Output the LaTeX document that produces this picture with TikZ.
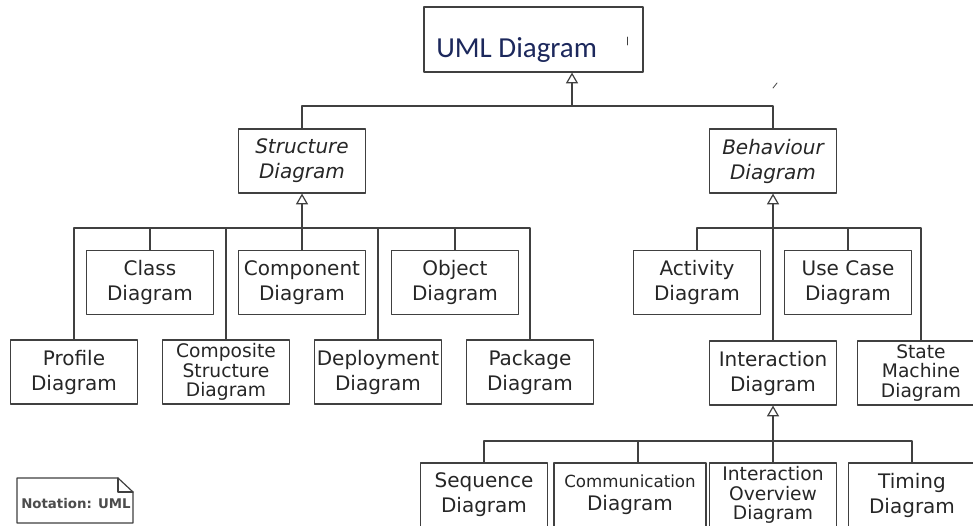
\documentclass[tikz,border=0pt]{standalone}
\usepackage{fontspec}
\setmainfont{DejaVu Sans}
\newfontfamily\titlefont{Carlito}
\usepackage{xcolor}
\usepackage{tikz}
\usetikzlibrary{positioning,arrows.meta}
\definecolor{umlline}{gray}{0.25}
\definecolor{umltitle}{RGB}{28,40,92}

\begin{document}
\begin{tikzpicture}[x=0.75pt, y=-0.75pt, line cap=round, line join=round,
    diagbox/.style={draw=umlline, line width=0.9pt, minimum width=95.25pt, minimum height=48pt,
        inner sep=0pt, align=center, text=black!85, font=\fontsize{15}{18.75}\selectfont},
    tallbox/.style={diagbox, font=\fontsize{14}{14.5}\selectfont},
    abstractbox/.style={diagbox, font=\fontsize{15}{18.75}\selectfont\itshape},
    gen/.style={draw=umlline, line width=0.9pt, -{Triangle[open, length=8pt, width=9pt]}},
    link/.style={draw=umlline, line width=0.9pt}]
        % Define frame
        \fill[white] (0,0) rectangle (973,525);
        \useasboundingbox (0,0) rectangle (973,525);
        \clip (0,0) rectangle (973,525);

        % Top of the tree
        \node[draw=umlline, line width=0.9pt, minimum width=164.25pt, minimum height=48.75pt] (uml) at (533.5,39.5) {};
        \node[anchor=base west, inner sep=0pt, text=umltitle, font=\titlefont\fontsize{21.75}{26}\selectfont] (umltext) at (436,57) {UML Diagram};
        \node[abstractbox] (structure) at (302,161) {Structure\\Diagram};
        \node[abstractbox] (behaviour) at (773,161) {Behaviour\\Diagram};

        % Structure diagrams
        \node[diagbox] (class) at (150,282.5) {Class\\Diagram};
        \node[diagbox] (component) at (302,282.5) {Component\\Diagram};
        \node[diagbox] (object) at (455,282.5) {Object\\Diagram};
        \node[diagbox] (profile) at (74,372) {Profile\\Diagram};
        \node[tallbox] (composite) at (226,372) {Composite\\Structure\\Diagram};
        \node[diagbox] (deployment) at (378,372) {Deployment\\Diagram};
        \node[diagbox] (package) at (530,372) {Package\\Diagram};

        % Behaviour diagrams
        \node[diagbox] (activity) at (697,282.5) {Activity\\Diagram};
        \node[diagbox] (usecase) at (848,282.5) {Use Case\\Diagram};
        \node[diagbox] (interaction) at (773,373) {Interaction\\Diagram};
        \node[tallbox] (statemachine) at (921,373) {State\\Machine\\Diagram};

        % Interaction diagrams
        \node[diagbox] (sequence) at (484,495) {Sequence\\Diagram};
        \node[diagbox, minimum width=114pt, font=\fontsize{15}{17}\selectfont] (communication) at (630,495) {{\fontsize{12.5}{15}\selectfont Communication}\\Diagram};
        \node[tallbox] (overview) at (773,495) {Interaction\\Overview\\Diagram};
        \node[diagbox] (timing) at (912,495) {Timing\\Diagram};

        % Generalisations
        \coordinate (ubus) at (572,106);
        \draw[link] (structure.north) |- (ubus) -| (behaviour.north);
        \draw[gen] (ubus) -- (ubus |- uml.south);

        \coordinate (sbus) at (302,228);
        \draw[gen] (sbus) -- (structure.south);
        \draw[link] (profile.north) |- (package.north |- sbus) -- (package.north);
        \foreach \child in {class,composite,component,deployment,object}
            \draw[link] (\child.north) -- (\child.north |- sbus);

        \coordinate (bbus) at (773,228);
        \draw[gen] (interaction.north) -- (behaviour.south);
        \draw[link] (activity.north) |- (statemachine.north |- bbus) -- (statemachine.north);
        \draw[link] (usecase.north) -- (usecase.north |- bbus);

        \coordinate (ibus) at (773,441);
        \draw[gen] (overview.north) -- (interaction.south);
        \draw[link] (sequence.north) |- (timing.north |- ibus) -- (timing.north);
        \draw[link] ([xshift=6pt]communication.north) -- ([xshift=6pt]communication.north |- ibus);

        % Notation note
        \draw[link, fill=white] (17,478) -- (118,478) -- (133,492) -- (133,523) -- (17,523) -- cycle;
        \draw[link] (118,478) -- (118,492) -- (133,492);
        \node[text=black!70, font=\bfseries\fontsize{10}{12}\selectfont] (notation) at (76,504) {Notation: UML};

        % Stray marks
        \draw[link, line width=0.6pt] (773,88) -- (777,83);
        \draw[link, line width=0.6pt] (627,37) -- (627,45);
    \end{tikzpicture}
\end{document}
